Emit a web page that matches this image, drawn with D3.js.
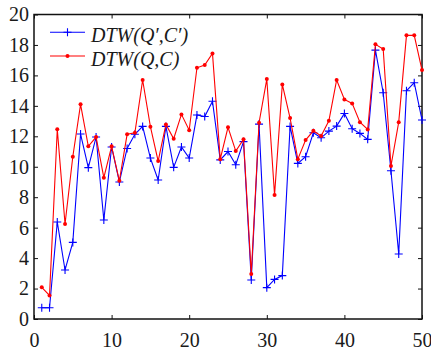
<!DOCTYPE html>
<html>
<head>
<meta charset="utf-8">
<script src="https://cdn.jsdelivr.net/npm/d3@7"></script>
<style>
  html, body { margin: 0; padding: 0; background: #fff; }
  svg text { font-family: "Liberation Serif", "Times New Roman", serif; fill: #1a1a1a; }
</style>
</head>
<body>
<div id="chart"></div>
<script>
// sample index along the x axis
const idx = [1, 2, 3, 4, 5, 6, 7, 8, 9, 10, 11, 12, 13, 14, 15, 16, 17, 18, 19, 20,
  21, 22, 23, 24, 25, 26, 27, 28, 29, 30, 31, 32, 33, 34, 35, 36, 37, 38, 39, 40,
  41, 42, 43, 44, 45, 46, 47, 48, 49, 50];

// DTW(Q',C') - blue, plus markers
const dtwPrime = [0.74, 0.74, 6.37, 3.22, 5.03, 12.15, 9.94, 11.95, 6.5, 11.3,
  9.0, 11.2, 12.13, 12.65, 10.57, 9.13, 12.65, 9.96, 11.3, 10.57,
  13.4, 13.3, 14.3, 10.45, 11.0, 10.13, 11.65, 2.56, 12.8, 2.06,
  2.6, 2.85, 12.65, 10.22, 10.66, 12.23, 11.9, 12.34, 12.67, 13.5,
  12.5, 12.19, 11.8, 17.66, 14.86, 9.74, 4.27, 14.99, 15.52, 13.07];

// DTW(Q,C) - red, dot markers
const dtwOrig = [2.08, 1.55, 12.46, 6.24, 10.66, 14.1, 11.34, 11.95, 9.28, 11.34,
  9.08, 12.13, 12.23, 15.7, 12.63, 10.37, 12.78, 11.84, 13.44, 12.4,
  16.5, 16.68, 17.44, 10.5, 12.59, 11.03, 11.8, 2.95, 12.89, 15.76,
  8.14, 15.41, 13.2, 10.5, 11.75, 12.36, 12.02, 13.02, 15.7, 14.42,
  14.16, 12.93, 12.45, 18.04, 17.73, 10.05, 12.93, 18.63, 18.63, 16.35];

const xTicks = [0, 10, 20, 30, 40, 50];
const yTicks = [0, 2, 4, 6, 8, 10, 12, 14, 16, 18, 20];
const seriesNames = ["DTW(Q\u2032,C\u2032)", "DTW(Q,C)"];
const seriesColors = ["#0000ff", "#ff0000"];

const W = 431, H = 351;
const margin = { top: 14.5, right: 9, bottom: 32, left: 34 };
const width = W - margin.left - margin.right;
const height = H - margin.top - margin.bottom;

const svg = d3.select("#chart").append("svg")
  .attr("width", W).attr("height", H);
const g = svg.append("g")
  .attr("transform", `translate(${margin.left},${margin.top})`);

const x = d3.scaleLinear().domain([0, 50]).range([0, width]);
const y = d3.scaleLinear().domain([0, 20]).range([height, 0]);

// axes, ticks pointing inward on all four sides
function styleAxis(sel) {
  sel.select(".domain").remove();
  sel.selectAll(".tick line").attr("stroke", "#111").attr("stroke-width", 1);
  sel.selectAll(".tick text").attr("font-size", 20).attr("fill", "#1a1a1a");
}
g.append("g").attr("transform", `translate(0,${height})`)
  .call(d3.axisBottom(x).tickValues(xTicks).tickSizeInner(-4).tickSizeOuter(0).tickPadding(14))
  .call(styleAxis);
g.append("g")
  .call(d3.axisLeft(y).tickValues(yTicks).tickSizeInner(-4).tickSizeOuter(0).tickPadding(5))
  .call(styleAxis);
g.append("g")
  .call(d3.axisTop(x).tickValues(xTicks).tickSizeInner(-4).tickSizeOuter(0).tickFormat(""))
  .call(styleAxis);
g.append("g").attr("transform", `translate(${width},0)`)
  .call(d3.axisRight(y).tickValues(yTicks).tickSizeInner(-4).tickSizeOuter(0).tickFormat(""))
  .call(styleAxis);

// box
g.append("rect")
  .attr("x", 0).attr("y", 0).attr("width", width).attr("height", height)
  .attr("fill", "none").attr("stroke", "#111").attr("stroke-width", 1.5);

const line = d3.line().x((d, i) => x(idx[i])).y(d => y(d));

function plus(sel, color, s) {
  sel.append("path")
    .attr("d", `M${-s},0H${s}M0,${-s}V${s}`)
    .attr("stroke", color).attr("stroke-width", 1.1).attr("fill", "none");
}

// blue series
g.append("path").datum(dtwPrime)
  .attr("d", line).attr("fill", "none")
  .attr("stroke", seriesColors[0]).attr("stroke-width", 1.1);
g.append("g").selectAll("g").data(dtwPrime).join("g")
  .attr("transform", (d, i) => `translate(${x(idx[i])},${y(d)})`)
  .each(function () { plus(d3.select(this), seriesColors[0], 4); });

// red series
g.append("path").datum(dtwOrig)
  .attr("d", line).attr("fill", "none")
  .attr("stroke", seriesColors[1]).attr("stroke-width", 1.1);
g.append("g").selectAll("circle").data(dtwOrig).join("circle")
  .attr("cx", (d, i) => x(idx[i])).attr("cy", d => y(d))
  .attr("r", 2).attr("fill", seriesColors[1]);

// legend
const legend = svg.append("g");
const rows = [32.3, 56];
seriesNames.forEach((name, k) => {
  const row = legend.append("g").attr("transform", `translate(0,${rows[k]})`);
  row.append("line").attr("x1", 50).attr("x2", 85).attr("y1", 0).attr("y2", 0)
    .attr("stroke", seriesColors[k]).attr("stroke-width", 1.1);
  if (k === 0) {
    const m = row.append("g").attr("transform", "translate(67.5,0)");
    plus(m, seriesColors[0], 4);
  } else {
    row.append("circle").attr("cx", 67.5).attr("cy", 0).attr("r", 2).attr("fill", seriesColors[1]);
  }
  row.append("text").attr("x", 91).attr("y", 9.5)
    .attr("font-size", 20).attr("font-style", "italic")
    .text(name);
});
</script>
</body>
</html>
